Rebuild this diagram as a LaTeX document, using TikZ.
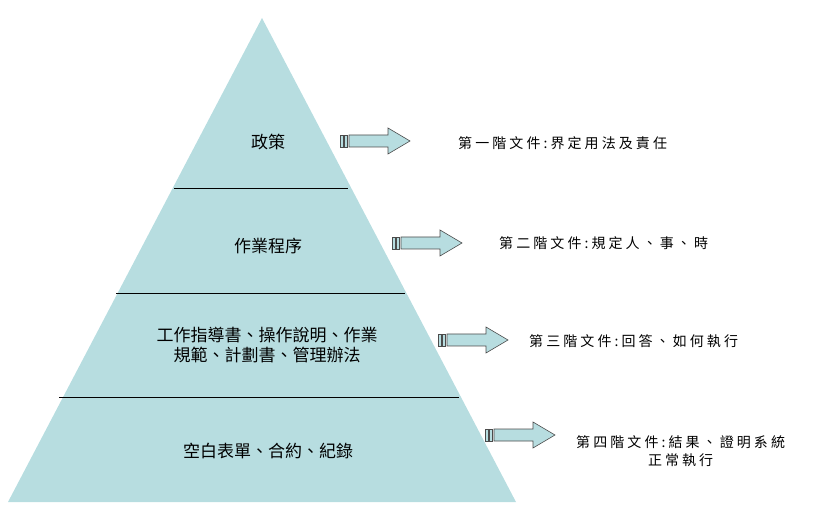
\documentclass[tikz,border=0pt]{standalone}
\usepackage{fontspec}
\newfontfamily\cjk{Noto Sans CJK TC}
\newfontfamily\cjkwide[LetterSpace=22]{Noto Sans CJK TC}
\usetikzlibrary{positioning}
\definecolor{pyrblue}{RGB}{183,221,224}
\begin{document}
\begin{tikzpicture}
[x=1pt, y=-1pt,
layer/.style={font=\cjk\fontsize{17}{20}\selectfont, align=center},
note/.style={font=\cjkwide\fontsize{14}{18}\selectfont, anchor=west, align=center, inner sep=0pt},
arr/.style={draw=black!70, fill=pyrblue, line width=0.6pt}
]
\useasboundingbox (0,0) rectangle (817,521);

\tikzset{
  stripe/.pic={
    \draw[arr] (0,-6) rectangle (3,6);
    \draw[arr] (4,-6) rectangle (7,6);
    \draw[arr] (9,-6) -- (48,-6) -- (48,-13) -- (70,0) -- (48,13) -- (48,6) -- (9,6) -- cycle;
  }
}

% pyramid
\fill[pyrblue] (262,18) -- (516,502) -- (8,502) -- cycle;
\draw (174,188) -- (348,188);
\draw (116,293) -- (405,293);
\draw (59,397) -- (459,397);

\node[layer] (l1) at (268,142) {政策};
\node[layer] (l2) at (268,246) {作業程序};
\node[layer] (l3) at (267,345) {工作指導書、操作說明、作業\\規範、計劃書、管理辦法};
\node[layer] (l4) at (268,451) {空白表單、合約、紀錄};

% arrows
\pic at (340,141) {stripe};
\pic at (392,243) {stripe};
\pic at (438,340) {stripe};
\pic at (485,435) {stripe};

\node[note] (n1) at (458,143) {第一階文件:界定用法及責任};
\node[note] (n2) at (499,243) {第二階文件:規定人、事、時};
\node[note] (n3) at (529,341) {第三階文件:回答、如何執行};
\node[note] (n4) at (576,451) {第四階文件:結果、證明系統\\正常執行};
\end{tikzpicture}
\end{document}
